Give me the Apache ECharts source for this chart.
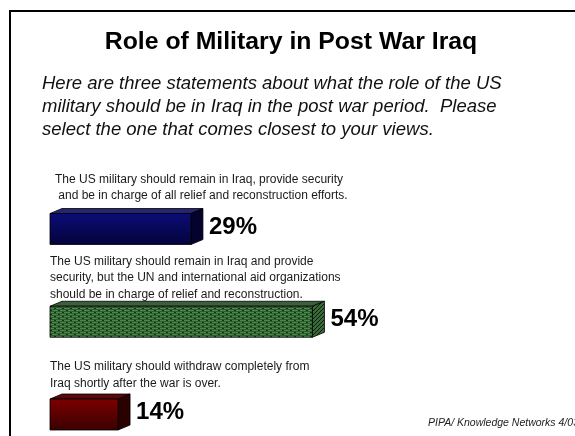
<!DOCTYPE html>
<html>
<head>
<meta charset="utf-8">
<style>
  html, body { margin: 0; padding: 0; background: #ffffff; }
  #chart { width: 575px; height: 436px; }
</style>
<script src="https://cdn.jsdelivr.net/npm/echarts@6/dist/echarts.min.js"></script>
</head>
<body>
<div id="chart"></div>
<script>
// Survey responses: one bar per statement
var categories = ['remain_in_charge', 'remain_un_in_charge', 'withdraw'];
var shares = [29, 54, 14];
var valueLabels = ['29%', '54%', '14%'];
var statements = [
  ['The US military should remain in Iraq, provide security',
   ' and be in charge of all relief and reconstruction efforts.'],
  ['The US military should remain in Iraq and provide',
   'security, but the UN and international aid organizations',
   'should be in charge of relief and reconstruction.'],
  ['The US military should withdraw completely from',
   'Iraq shortly after the war is over.']
];
var titleText = 'Role of Military in Post War Iraq';
var questionLines = [
  'Here are three statements about what the role of the US',
  'military should be in Iraq in the post war period.  Please',
  'select the one that comes closest to your views.'
];
var sourceText = 'PIPA/ Knowledge Networks 4/03';

// Woven-looking texture for the green bar
function makeWeave() {
  var c = document.createElement('canvas');
  c.width = 8; c.height = 4;
  var g = c.getContext('2d');
  g.fillStyle = '#143214';
  g.fillRect(0, 0, 8, 4);
  g.fillStyle = '#4a874a';
  g.fillRect(0, 0, 6, 1);
  g.fillRect(4, 2, 6, 1);
  g.fillRect(-4, 2, 6, 1);
  g.fillStyle = '#2c5c2c';
  g.fillRect(0, 1, 8, 1);
  g.fillRect(0, 3, 8, 1);
  return c;
}
function makeHatch() {
  var c = document.createElement('canvas');
  c.width = 4; c.height = 4;
  var g = c.getContext('2d');
  g.fillStyle = '#3a6a3a';
  g.fillRect(0, 0, 4, 4);
  g.fillStyle = '#0a1a0a';
  for (var i = 0; i < 4; i++) { g.fillRect(i, (3 - i + 4) % 4, 1, 1); }
  return c;
}

function vgrad(top, bottom) {
  return new echarts.graphic.LinearGradient(0, 0, 0, 1, [
    { offset: 0, color: top }, { offset: 1, color: bottom }
  ]);
}

var faceStyles = [
  { front: vgrad('#0c0c78', '#03033a'), top: '#26266e', side: '#03032e' },
  { front: { image: makeWeave(), repeat: 'repeat' }, top: '#3c5e3c', side: { image: makeHatch(), repeat: 'repeat' } },
  { front: vgrad('#7c0000', '#3a0000'), top: '#5c0808', side: '#2a0000' }
];

var depthX = 12, depthY = 5, faceH = 31;

function renderBox(params, api) {
  var idx = params.dataIndex;
  var p0 = api.coord([0, api.value(0)]);
  var p1 = api.coord([api.value(1), api.value(0)]);
  var x0 = p0[0], x1 = p1[0], cy = p0[1];
  var y0 = cy - faceH / 2, y1 = cy + faceH / 2;
  var st = faceStyles[idx];
  var edge = { stroke: '#000000', lineWidth: 0.8 };
  return {
    type: 'group',
    children: [
      { type: 'polygon', shape: { points: [[x0, y0], [x0 + depthX, y0 - depthY], [x1 + depthX, y0 - depthY], [x1, y0]] },
        style: Object.assign({ fill: st.top }, edge) },
      { type: 'polygon', shape: { points: [[x1, y0], [x1 + depthX, y0 - depthY], [x1 + depthX, y1 - depthY], [x1, y1]] },
        style: Object.assign({ fill: st.side }, edge) },
      { type: 'rect', shape: { x: x0, y: y0, width: x1 - x0, height: y1 - y0 },
        style: Object.assign({ fill: st.front }, edge) },
      { type: 'text', x: x1 + depthX + 6, y: cy - 2,
        style: { text: valueLabels[idx], fill: '#000000', font: 'bold 24px "Liberation Sans", Arial, sans-serif',
                 textAlign: 'left', textVerticalAlign: 'middle' } }
    ]
  };
}

var graphics = [
  { type: 'rect', shape: { x: 10, y: 11, width: 700, height: 600 },
    style: { fill: null, stroke: '#000000', lineWidth: 2 }, silent: true },
  { type: 'text', x: 291, y: 42,
    style: { text: titleText, font: 'bold 24.8px "Liberation Sans", Arial, sans-serif', fill: '#000000',
             textAlign: 'center', textVerticalAlign: 'middle' } },
  { type: 'text', left: 42, top: 72,
    style: { text: questionLines.join('\n'), font: 'italic 18.5px "Liberation Sans", Arial, sans-serif',
             lineHeight: 23, fill: '#111111' } },
  { type: 'text', left: 428, top: 418,
    style: { text: sourceText, font: 'italic 10.5px "Liberation Sans", Arial, sans-serif', fill: '#222222' } }
];
var stmtPos = [[55, 172, 16], [50, 253, 16.5], [50, 358, 17]];
statements.forEach(function (lines, i) {
  graphics.push({ type: 'text', left: stmtPos[i][0], top: stmtPos[i][1],
    style: { text: lines.join('\n'), font: '12px "Liberation Sans", Arial, sans-serif',
             lineHeight: stmtPos[i][2], fill: '#1a1a1a' } });
});

var chart = echarts.init(document.getElementById('chart'), null, { renderer: 'canvas' });
chart.setOption({
  backgroundColor: '#ffffff',
  animation: false,
  grid: { left: 50, width: 486, top: 229, height: 185.5 },
  xAxis: { type: 'value', min: 0, max: 100, show: false },
  yAxis: { type: 'value', min: 0, max: 2, inverse: true, show: false },
  graphic: graphics,
  series: [{
    type: 'custom',
    renderItem: renderBox,
    encode: { x: 1, y: 0 },
    data: categories.map(function (c, i) { return [i, shares[i]]; })
  }]
});
</script>
</body>
</html>
